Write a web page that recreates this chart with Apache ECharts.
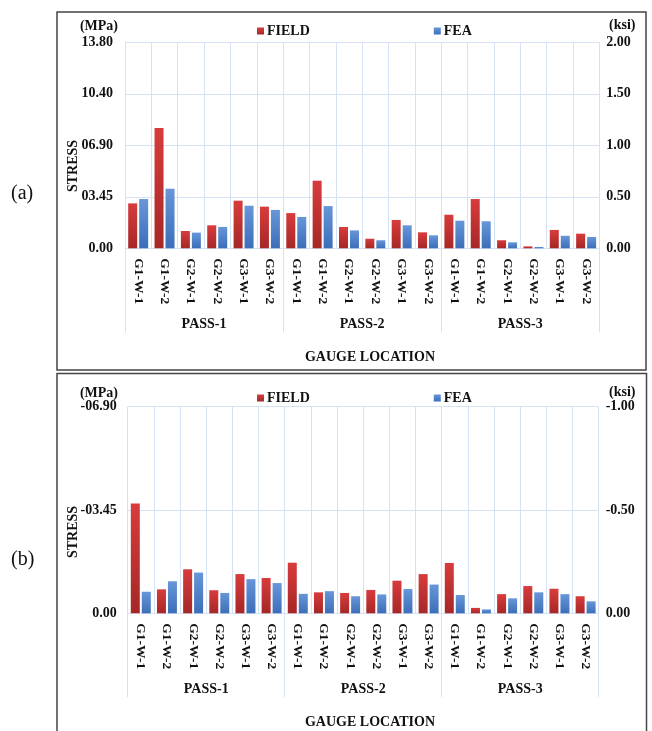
<!DOCTYPE html>
<html>
<head>
<meta charset="utf-8">
<script src="https://cdn.jsdelivr.net/npm/echarts@6/dist/echarts.min.js"></script>
<style>
html,body{margin:0;padding:0;background:#fff;}
#chart{width:652px;height:731px;}
</style>
</head>
<body>
<div id="chart"></div>
<script>
// ---------- data ----------
var gauges = ['G1-W-1','G1-W-2','G2-W-1','G2-W-2','G3-W-1','G3-W-2',
              'G1-W-1','G1-W-2','G2-W-1','G2-W-2','G3-W-1','G3-W-2',
              'G1-W-1','G1-W-2','G2-W-1','G2-W-2','G3-W-1','G3-W-2'];
var passes = ['PASS-1','PASS-2','PASS-3'];

// (a) tension, MPa
var fieldA = [3.01, 8.06, 1.16, 1.54, 3.19, 2.79, 2.36, 4.53, 1.43, 0.64, 1.90, 1.07, 2.25, 3.30, 0.54, 0.13, 1.23, 0.98];
var feaA   = [3.30, 3.99, 1.05, 1.43, 2.85, 2.57, 2.10, 2.83, 1.20, 0.54, 1.54, 0.87, 1.85, 1.81, 0.40, 0.09, 0.84, 0.76];

// (b) compression, MPa
var fieldB = [-3.67, -0.80, -1.47, -0.77, -1.31, -1.18, -1.69, -0.70, -0.68, -0.78, -1.09, -1.31, -1.68, -0.18, -0.64, -0.91, -0.82, -0.57];
var feaB   = [-0.72, -1.07, -1.36, -0.68, -1.14, -1.01, -0.65, -0.74, -0.57, -0.63, -0.81, -0.96, -0.61, -0.13, -0.50, -0.70, -0.64, -0.40];

// tick labels (from axis min upwards in value order)
var mpaTicksA = ['0.00','03.45','06.90','10.40','13.80'];
var ksiTicksA = ['0.00','0.50','1.00','1.50','2.00'];
var mpaTicksB = ['-06.90','-03.45','0.00'];
var ksiTicksB = ['-1.00','-0.50','0.00'];

// ---------- styling ----------
var SERIF = "'Liberation Serif','Times New Roman',serif";
var GRID = '#d5e2f4';
var red = new echarts.graphic.LinearGradient(0,0,0,1,[{offset:0,color:'#d83c3c'},{offset:1,color:'#a62727'}]);
var blue = new echarts.graphic.LinearGradient(0,0,0,1,[{offset:0,color:'#6797d8'},{offset:1,color:'#3c6eb9'}]);

function lab(arr, min, step){
  return function(v){ var i = Math.round((v - min)/step); return arr[i] !== undefined ? arr[i] : ''; };
}
var tickFont = {fontFamily:SERIF, fontWeight:'bold', fontSize:14, color:'#111'};

function xAxes(gi){
  return [
    {type:'category', gridIndex:gi, data:gauges,
     axisLine:{show:true, lineStyle:{color:GRID, width:1}},
     axisTick:{show:false},
     splitLine:{show:true, interval:0, lineStyle:{color:GRID, width:1}},
     axisLabel:{interval:0, rotate:-90, margin:10, fontFamily:SERIF, fontWeight:'bold', fontSize:13.5, color:'#111'}},
    {type:'category', gridIndex:gi, data:passes, position:'bottom',
     axisLine:{show:false},
     axisTick:{show:true, length:84, lineStyle:{color:GRID, width:1}},
     splitLine:{show:false},
     axisLabel:{interval:0, margin:69, fontFamily:SERIF, fontWeight:'bold', fontSize:14, color:'#111'}}
  ];
}

var option = {
  animation:false,
  backgroundColor:'#fff',
  grid:[
    {left:125, right:52.7, top:42.3, height:206},
    {left:127.7, right:53.3, top:406.7, height:206.6}
  ],
  legend:[
    {data:['FIELD','FEA'], left:252, top:19, itemWidth:7, itemHeight:7, icon:'rect', itemGap:124,
     textStyle:{fontFamily:SERIF, fontWeight:'bold', fontSize:14, color:'#111', padding:[0,0,0,-2]}},
    {data:['FIELD','FEA'], left:252, top:386, itemWidth:7, itemHeight:7, icon:'rect', itemGap:124,
     textStyle:{fontFamily:SERIF, fontWeight:'bold', fontSize:14, color:'#111', padding:[0,0,0,-2]}}
  ],
  xAxis: xAxes(0).concat(xAxes(1)),
  yAxis:[
    {type:'value', gridIndex:0, min:0, max:13.8, interval:3.45,
     axisLine:{show:false}, axisTick:{show:false},
     splitLine:{show:true, lineStyle:{color:GRID, width:1}},
     axisLabel:Object.assign({margin:12, formatter:lab(mpaTicksA,0,3.45)}, tickFont)},
    {type:'value', gridIndex:0, position:'right', min:0, max:2, interval:0.5,
     axisLine:{show:false}, axisTick:{show:false}, splitLine:{show:false},
     axisLabel:Object.assign({margin:7, formatter:lab(ksiTicksA,0,0.5)}, tickFont)},
    {type:'value', gridIndex:1, min:-6.9, max:0, interval:3.45, inverse:true,
     axisLine:{show:false}, axisTick:{show:false},
     splitLine:{show:true, lineStyle:{color:GRID, width:1}},
     axisLabel:Object.assign({margin:11, formatter:lab(mpaTicksB,-6.9,3.45)}, tickFont)},
    {type:'value', gridIndex:1, position:'right', min:-1, max:0, interval:0.5, inverse:true,
     axisLine:{show:false}, axisTick:{show:false}, splitLine:{show:false},
     axisLabel:Object.assign({margin:7, formatter:lab(ksiTicksB,-1,0.5)}, tickFont)}
  ],
  series:[
    {name:'FIELD', type:'bar', xAxisIndex:0, yAxisIndex:0, data:fieldA, barWidth:9, barGap:'22%', itemStyle:{color:red}},
    {name:'FEA', type:'bar', xAxisIndex:0, yAxisIndex:0, data:feaA, barWidth:9, barGap:'22%', itemStyle:{color:blue}},
    {name:'FIELD', type:'bar', xAxisIndex:2, yAxisIndex:2, data:fieldB, barWidth:9, barGap:'22%', itemStyle:{color:red}},
    {name:'FEA', type:'bar', xAxisIndex:2, yAxisIndex:2, data:feaB, barWidth:9, barGap:'22%', itemStyle:{color:blue}}
  ],
  graphic:[
    {type:'rect', shape:{x:57, y:12, width:589, height:358}, style:{fill:null, stroke:'#444', lineWidth:1.5}, silent:true},
    {type:'rect', shape:{x:57, y:373.5, width:589.5, height:370}, style:{fill:null, stroke:'#444', lineWidth:1.5}, silent:true},
    {type:'text', left:11, top:184, style:{text:'(a)', font:'20px '+SERIF, fill:'#111'}},
    {type:'text', left:11, top:550, style:{text:'(b)', font:'20px '+SERIF, fill:'#111'}},
    {type:'text', x:118, y:26, style:{text:'(MPa)', font:'bold 14px '+SERIF, fill:'#111', textAlign:'right', textVerticalAlign:'middle'}},
    {type:'text', x:118, y:393, style:{text:'(MPa)', font:'bold 14px '+SERIF, fill:'#111', textAlign:'right', textVerticalAlign:'middle'}},
    {type:'text', x:609, y:25, style:{text:'(ksi)', font:'bold 14px '+SERIF, fill:'#111', textAlign:'left', textVerticalAlign:'middle'}},
    {type:'text', x:609, y:392, style:{text:'(ksi)', font:'bold 14px '+SERIF, fill:'#111', textAlign:'left', textVerticalAlign:'middle'}},
    {type:'text', x:73, y:166, rotation:Math.PI/2, style:{text:'STRESS', font:'bold 14px '+SERIF, fill:'#111', textAlign:'center', textVerticalAlign:'middle'}},
    {type:'text', x:73, y:532, rotation:Math.PI/2, style:{text:'STRESS', font:'bold 14px '+SERIF, fill:'#111', textAlign:'center', textVerticalAlign:'middle'}},
    {type:'text', x:370, y:357, style:{text:'GAUGE LOCATION', font:'bold 14px '+SERIF, fill:'#111', textAlign:'center', textVerticalAlign:'middle'}},
    {type:'text', x:370, y:722, style:{text:'GAUGE LOCATION', font:'bold 14px '+SERIF, fill:'#111', textAlign:'center', textVerticalAlign:'middle'}}
  ]
};
var chart = echarts.init(document.getElementById('chart'), null, {renderer:'canvas'});
chart.setOption(option);
</script>
</body>
</html>
